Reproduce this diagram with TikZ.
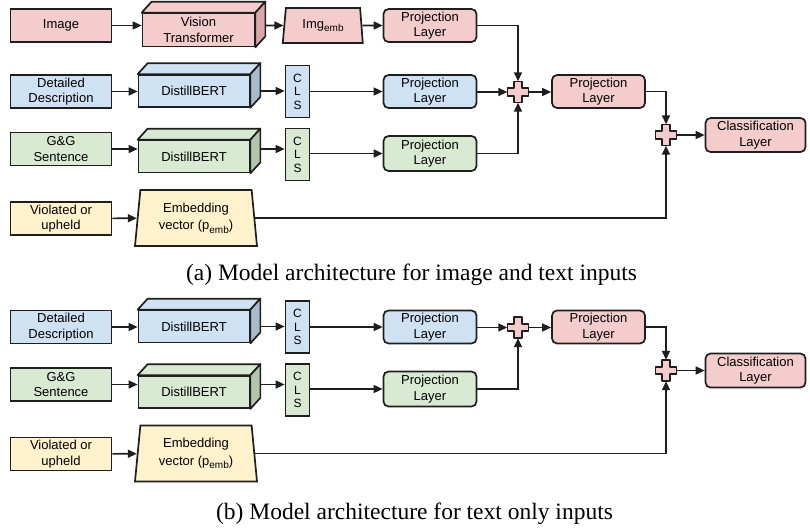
\documentclass[tikz,border=0pt]{standalone}
\usepackage{fontspec}
\setmainfont{Liberation Serif}
\setsansfont{Liberation Sans}
\usepackage{tikz}
\usetikzlibrary{shapes.geometric,arrows.meta,calc}

\definecolor{pinkfill}{HTML}{F4CCCC}
\definecolor{pinkside}{HTML}{D8A8A8}
\definecolor{bluefill}{HTML}{CFE2F3}
\definecolor{blueside}{HTML}{A8BACB}
\definecolor{greenfill}{HTML}{D9EAD3}
\definecolor{greenside}{HTML}{B3C5AD}
\definecolor{yellowfill}{HTML}{FFF2CC}
\definecolor{edge}{HTML}{1E1E1E}

\newcommand{\lowsub}[1]{\raisebox{-0.5ex}{\fontsize{10}{10}\selectfont #1}}

\tikzset{pics/plusop/.style={code={
    \draw[draw=edge, line width=1.7pt, line join=round, fill=pinkfill]
        (-3.8,-10.5) -- (3.8,-10.5) -- (3.8,-3.8) -- (10.5,-3.8) -- (10.5,3.8) -- (3.8,3.8)
        -- (3.8,10.5) -- (-3.8,10.5) -- (-3.8,3.8) -- (-10.5,3.8) -- (-10.5,-3.8) -- (-3.8,-3.8) -- cycle;
}}}

\begin{document}
\begin{tikzpicture}[x=1pt, y=-1pt, >={Triangle[length=9pt,width=8pt]}]
    \tikzstyle{inbox} = [draw=edge, line width=1.7pt, rectangle, minimum width=101pt, minimum height=33pt, inner sep=0pt, font=\sffamily\fontsize{13}{15.5}\selectfont, align=center]
    \tikzstyle{block} = [inbox, rounded corners=5pt, minimum width=93pt]
    \tikzstyle{cube} = [inbox, minimum width=111pt, minimum height=32pt]
    \tikzstyle{face} = [draw=edge, line width=1.7pt, line join=round]
    \tikzstyle{cls} = [inbox, minimum width=24pt, minimum height=52pt, font=\sffamily\fontsize{12}{13.5}\selectfont]
    \tikzstyle{trap} = [inbox, trapezium, trapezium stretches body=true]
    \tikzstyle{sumop} = [minimum size=21pt, inner sep=0pt]
    \tikzstyle{line} = [draw=edge, ->, line width=1.6pt]
    \tikzstyle{caption} = [font=\fontsize{23.5}{26}\selectfont, anchor=base]

    \useasboundingbox (0,0) rectangle (810,528);

    % image branch, only in (a)
    \node [inbox, fill=pinkfill] (image) at (61,25.5) {Image};
    \node [cube, fill=pinkfill, minimum width=112pt, minimum height=33pt] (vit) at (198.5,30) {Vision\\Transformer};
    \draw [face, fill=pinkfill] (vit.north west) -- ++(10,-11) -- ([shift={(10,-11)}]vit.north east) -- (vit.north east) -- cycle;
    \draw [face, fill=pinkside] (vit.north east) -- ++(10,-11) -- ([shift={(10,-11)}]vit.south east) -- (vit.south east) -- cycle;
    \node [trap, fill=pinkfill, minimum width=80pt, minimum height=35pt, trapezium left angle=76, trapezium right angle=78] (imgemb) at (323,25.5) {Img\lowsub{emb}};
    \node [block, fill=pinkfill] (projimg) at (430,25.5) {Projection\\Layer};

    \draw [line] (image) -- (image -| vit.west);
    \draw [line] ([xshift=10pt]vit.east |- imgemb) -- (imgemb);
    \draw [line] (imgemb) -- (projimg);

    % text branches, in (a) and (b)
    \foreach \p/\dy in {a/0, b/235.5}{
        \node [inbox, fill=bluefill] (desc\p) at (61,91.5+\dy) {Detailed\\Description};
        \node [cube, fill=bluefill] (bertd\p) at (194,91+\dy) {DistillBERT};
        \draw [face, fill=bluefill] (bertd\p.north west) -- ++(10,-11) -- ([shift={(10,-11)}]bertd\p.north east) -- (bertd\p.north east) -- cycle;
        \draw [face, fill=blueside] (bertd\p.north east) -- ++(10,-11) -- ([shift={(10,-11)}]bertd\p.south east) -- (bertd\p.south east) -- cycle;
        \node [cls, fill=bluefill] (clsd\p) at (297.5,91.5+\dy) {C\\L\\S};
        \node [block, fill=bluefill] (projd\p) at (430,91.5+\dy) {Projection\\Layer};
        \node [sumop] (sum\p) at (518,92+\dy) {};
        \pic at (sum\p) {plusop};
        \node [block, fill=pinkfill] (proj\p) at (598.5,91.5+\dy) {Projection\\Layer};

        \node [inbox, fill=greenfill] (gg\p) at (61,149+\dy) {G\&G\\Sentence};
        \node [cube, fill=greenfill] (bertg\p) at (194,156.5+\dy) {DistillBERT};
        \draw [face, fill=greenfill] (bertg\p.north west) -- ++(10,-11) -- ([shift={(10,-11)}]bertg\p.north east) -- (bertg\p.north east) -- cycle;
        \draw [face, fill=greenside] (bertg\p.north east) -- ++(10,-11) -- ([shift={(10,-11)}]bertg\p.south east) -- (bertg\p.south east) -- cycle;
        \node [cls, fill=greenfill] (clsg\p) at (297.5,154.5+\dy) {C\\L\\S};
        \node [block, fill=greenfill, minimum height=35pt] (projg\p) at (430,153.5+\dy) {Projection\\Layer};

        \node [inbox, fill=yellowfill] (viol\p) at (61,218.5+\dy) {Violated or\\upheld};
        \node [trap, fill=yellowfill, minimum width=122pt, minimum height=56pt, trapezium left angle=80, trapezium right angle=80] (emb\p) at (196,218+\dy) {Embedding\\[2pt]vector (p\lowsub{emb})};

        \node [sumop] (sumtwo\p) at (666,135+\dy) {};
        \pic at (sumtwo\p) {plusop};
        \node [block, fill=pinkfill, minimum width=100pt, minimum height=34pt] (clf\p) at (755.5,135+\dy) {Classification\\Layer};

        \draw [line] (desc\p) -- (desc\p -| bertd\p.west);
        \draw [line] ([xshift=10pt]bertd\p.east) -- (clsd\p.west |- bertd\p.east);
        \draw [line] (clsd\p.east |- projd\p) -- (projd\p);
        \draw [line] (projd\p.east |- sum\p) -- (sum\p.west);
        \draw [line] (gg\p) -- (gg\p -| bertg\p.west);
        \draw [line] ([xshift=10pt]bertg\p.east |- gg\p) -- (clsg\p.west |- gg\p);
        \draw [line] (clsg\p.east |- projg\p) -- (projg\p);
        \draw [line] (projg\p.east) -| (sum\p.south);
        \draw [line] (sum\p.east) -- (proj\p.west |- sum\p);
        \draw [line] (proj\p.east) -| (sumtwo\p.north);
        \draw [line] (viol\p) -- (emb\p);
        \draw [line] (emb\p.east) -| (sumtwo\p.south);
        \draw [line] (sumtwo\p.east) -- (clf\p.west |- sumtwo\p);
    }

    \draw [line] (projimg.east) -| (suma.north);

    % captions
    \node [caption] (capa) at (411.5,280) {(a) Model architecture for image and text inputs};
    \node [caption] (capb) at (414.5,519) {(b) Model architecture for text only inputs};
\end{tikzpicture}
\end{document}
